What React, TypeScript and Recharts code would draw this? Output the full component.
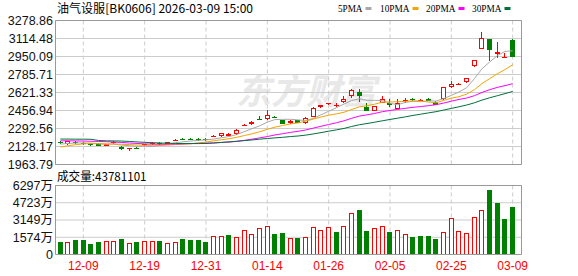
import React from "react";
import {
  ComposedChart,
  BarChart,
  Bar,
  Line,
  XAxis,
  YAxis,
  CartesianGrid,
  ReferenceLine,
} from "recharts";

// trading days shown (MM-DD)
const dates = [
  "12-04", "12-05", "12-08", "12-09", "12-10", "12-11", "12-12", "12-15", "12-16", "12-17",
  "12-18", "12-19", "12-22", "12-23", "12-24", "12-25", "12-26", "12-29", "12-30", "12-31",
  "01-05", "01-06", "01-07", "01-08", "01-09", "01-12", "01-13", "01-14", "01-15", "01-16",
  "01-19", "01-20", "01-21", "01-22", "01-23", "01-26", "01-27", "01-28", "01-29", "01-30",
  "02-02", "02-03", "02-04", "02-05", "02-06", "02-09", "02-10", "02-11", "02-12", "02-13",
  "02-24", "02-25", "02-26", "02-27", "03-02", "03-03", "03-04", "03-05", "03-06", "03-09",
];
const tickDates = ["12-09", "12-19", "12-31", "01-14", "01-26", "02-05", "02-25", "03-09"];

const open = [
  2172, 2150, 2172, 2160, 2150, 2155, 2135, 2160, 2128, 2106,
  2118, 2138, 2150, 2160, 2155, 2182, 2198, 2196, 2195, 2196,
  2220, 2222, 2228, 2240, 2315, 2332, 2381, 2378, 2396, 2368,
  2341, 2368, 2341, 2398, 2486, 2518, 2500, 2536, 2590, 2627,
  2493, 2453, 2530, 2530, 2475, 2550, 2562, 2548, 2558, 2536,
  2560, 2667, 2692, 2713, 2864, 3023, 3108, 2975, 2942, 3102,
];
const close = [
  2163, 2175, 2160, 2152, 2145, 2137, 2150, 2168, 2103, 2114,
  2112, 2148, 2157, 2152, 2165, 2192, 2191, 2190, 2189, 2188,
  2222, 2247, 2246, 2280, 2327, 2356, 2376, 2417, 2392, 2338,
  2362, 2347, 2393, 2484, 2505, 2522, 2504, 2566, 2642, 2585,
  2453, 2499, 2566, 2510, 2524, 2555, 2553, 2551, 2548, 2508,
  2667, 2697, 2703, 2752, 2916, 3123, 3008, 2990, 2948, 2945,
];
const high = [
  2180, 2182, 2178, 2168, 2162, 2158, 2155, 2178, 2133, 2118,
  2128, 2153, 2165, 2167, 2170, 2196, 2205, 2204, 2203, 2202,
  2230, 2252, 2255, 2284, 2331, 2362, 2410, 2460, 2405, 2372,
  2366, 2372, 2398, 2488, 2508, 2530, 2525, 2585, 2650, 2651,
  2524, 2502, 2585, 2560, 2560, 2568, 2575, 2565, 2572, 2540,
  2672, 2722, 2708, 2756, 2920, 3178, 3112, 3080, 2978, 3110,
];
const low = [
  2152, 2145, 2152, 2145, 2136, 2132, 2130, 2155, 2100, 2083,
  2105, 2133, 2145, 2146, 2150, 2178, 2186, 2185, 2182, 2180,
  2212, 2218, 2224, 2236, 2311, 2328, 2374, 2372, 2385, 2334,
  2338, 2343, 2336, 2395, 2483, 2508, 2487, 2522, 2572, 2536,
  2450, 2450, 2527, 2485, 2472, 2530, 2540, 2540, 2545, 2505,
  2555, 2662, 2688, 2710, 2855, 3018, 2910, 2940, 2938, 2941,
];
const prevClose = 2170;

const ma5 = [
  2150, 2156, 2160, 2161, 2159, 2154, 2149, 2150, 2141, 2135,
  2130, 2130, 2127, 2137, 2148, 2163, 2171, 2178, 2184, 2189,
  2196, 2208, 2219, 2237, 2264, 2291, 2317, 2351, 2374, 2376,
  2377, 2371, 2366, 2385, 2418, 2450, 2482, 2516, 2548, 2564,
  2550, 2549, 2549, 2523, 2510, 2531, 2541, 2538, 2545, 2543,
  2565, 2595, 2626, 2665, 2747, 2838, 2900, 2958, 2997, 3002,
];
const ma10 = [
  2124, 2135, 2145, 2152, 2155, 2153, 2152, 2151, 2148, 2146,
  2142, 2139, 2139, 2139, 2141, 2146, 2150, 2153, 2161, 2169,
  2180, 2190, 2199, 2212, 2228, 2244, 2263, 2285, 2305, 2320,
  2334, 2344, 2359, 2379, 2397, 2414, 2426, 2441, 2466, 2491,
  2500, 2515, 2533, 2535, 2537, 2540, 2545, 2543, 2535, 2527,
  2549, 2569, 2583, 2607, 2646, 2703, 2748, 2792, 2831, 2875,
];
const ma20 = [
  2180, 2180, 2179, 2178, 2176, 2174, 2172, 2169, 2165, 2160,
  2156, 2152, 2150, 2149, 2150, 2151, 2153, 2155, 2157, 2158,
  2161, 2165, 2169, 2175, 2184, 2195, 2207, 2219, 2234, 2245,
  2257, 2267, 2279, 2296, 2313, 2329, 2345, 2363, 2386, 2406,
  2417, 2430, 2446, 2457, 2467, 2477, 2486, 2493, 2501, 2510,
  2525, 2542, 2558, 2571, 2592, 2622, 2647, 2668, 2684, 2702,
];
const ma30 = [
  2196, 2196, 2195, 2195, 2194, 2183, 2180, 2179, 2178, 2174,
  2170, 2166, 2163, 2160, 2158, 2156, 2155, 2155, 2155, 2156,
  2160, 2165, 2170, 2176, 2182, 2188, 2195, 2201, 2207, 2212,
  2219, 2224, 2232, 2243, 2255, 2268, 2280, 2293, 2311, 2327,
  2338, 2350, 2363, 2375, 2387, 2399, 2412, 2423, 2435, 2446,
  2461, 2476, 2491, 2507, 2527, 2552, 2573, 2592, 2611, 2631,
];

// volume in 万 (10k shares)
const volume = [
  1100, 1100, 1280, 1280, 915, 1100, 1250, 1190, 1370, 1070,
  1100, 1250, 1190, 1190, 1070, 1160, 1370, 1280, 1280, 1100,
  1710, 1710, 1740, 1555, 2260, 1890, 2440, 2620, 1830, 1920,
  1465, 1465, 1555, 2530, 2260, 2530, 2015, 2620, 3810, 4030,
  2100, 2440, 2620, 2015, 2260, 1890, 1555, 1650, 1650, 1370,
  2075, 3355, 2165, 1980, 3450, 4090, 5860, 4670, 3200, 4378,
];
const lastVolume = 43781101;

const priceTicks = [1963.79, 2128.17, 2292.56, 2456.94, 2621.33, 2785.71, 2950.09, 3114.48, 3278.86];
const volTicks = [0, 1574, 3149, 4723, 6297];

const maNames = ["5PMA", "10PMA", "20PMA", "30PMA"];
const maColors = ["#a8a8a8", "#f5a300", "#ff00ff", "#00703c"];

const RED = "#ff0000";
const GREEN = "#008000";
const GRID = "#cccccc";
const FRAME = "#999999";
const NUM_FONT = "'Liberation Sans', Arial, 'Noto Sans CJK SC', sans-serif";
const CJK_FONT = "'Noto Sans CJK SC', sans-serif";

const rows = dates.map((d, i) => ({
  date: d,
  open: open[i],
  close: close[i],
  high: high[i],
  low: low[i],
  range: [low[i], high[i]],
  ma5: ma5[i],
  ma10: ma10[i],
  ma20: ma20[i],
  ma30: ma30[i],
  vol: volume[i],
  volUp: close[i] >= (i === 0 ? prevClose : close[i - 1]),
}));

function Candle(props: any) {
  const { x, y, width, height, payload } = props;
  if (!payload) return null;
  const { open: o, close: c, high: h, low: l } = payload;
  const k = h === l ? 0 : height / (h - l);
  const cx = Math.round(x + width / 2 - 0.5);
  const yO = y + (h - o) * k;
  const yC = y + (h - c) * k;
  const top = Math.round(Math.min(yO, yC));
  const bot = Math.round(Math.max(yO, yC));
  const up = c >= o;
  const color = up ? RED : GREEN;
  let body;
  if (bot - top <= 1) {
    body = <rect x={cx - 2} y={top} width={5} height={1} fill={color} />;
  } else if (up) {
    body = (
      <rect x={cx - 1.5} y={top + 0.5} width={4} height={bot - top - 1} fill="#fff" stroke={color} strokeWidth={1} />
    );
  } else {
    body = <rect x={cx - 2} y={top} width={5} height={bot - top} fill={color} />;
  }
  return (
    <g>
      <line x1={cx + 0.5} x2={cx + 0.5} y1={Math.round(y)} y2={Math.round(y + height)} stroke={color} strokeWidth={1} />
      {body}
    </g>
  );
}

function VolBar(props: any) {
  const { x, y, width, height, payload } = props;
  if (!payload) return null;
  const cx = Math.round(x + width / 2 - 0.5);
  const top = Math.round(y);
  const bot = Math.round(y + height);
  if (payload.volUp) {
    return (
      <rect x={cx - 1.5} y={top + 0.5} width={4} height={Math.max(0, bot - top - 1)} fill="#fff" stroke={RED} strokeWidth={1} />
    );
  }
  return <rect x={cx - 2} y={top} width={5} height={bot - top} fill={GREEN} />;
}

const yTick = { fontSize: 12.5, fill: "#111", fontFamily: NUM_FONT };

export default function App() {
  const legendX = [338, 380, 426, 472];
  const legendW = [24.5, 29.5, 29.5, 29.5];
  return (
    <div style={{ position: "absolute", left: 0, top: 0, width: 578, height: 276, background: "#fff" }}>
      {/* watermark */}
      <svg width={578} height={276} style={{ position: "absolute", left: 0, top: 0 }}>
        <text
          x={236}
          y={104}
          fontSize={35}
          fontWeight={700}
          fontStyle="italic"
          fontFamily={CJK_FONT}
          fill="#e8e8e8"
          textLength={140}
          lengthAdjust="spacingAndGlyphs"
        >
          东方财富
        </text>
      </svg>

      <div style={{ position: "absolute", left: 0, top: 0 }}>
        <ComposedChart width={578} height={178} data={rows} margin={{ top: 20.5, right: 55.5, bottom: 13.5, left: 0 }}>
          <CartesianGrid vertical={false} stroke={GRID} />
          <CartesianGrid horizontal={false} stroke={GRID} strokeDasharray="4 3" />
          <XAxis dataKey="date" hide ticks={tickDates} interval={0} padding={{ left: 1, right: 5 }} />
          <YAxis
            domain={[1963.79, 3278.86]}
            ticks={priceTicks}
            interval={0}
            allowDataOverflow
            width={55.5}
            tickLine={false}
            tickSize={0}
            tickMargin={2.5}
            axisLine={{ stroke: FRAME }}
            tick={yTick}
            tickFormatter={(v: number) => v.toFixed(2)}
          />
          <YAxis yAxisId="r" orientation="right" width={1} tick={false} tickLine={false} axisLine={{ stroke: FRAME }} />
          <ReferenceLine y={3278.86} stroke={FRAME} />
          <ReferenceLine y={1963.79} stroke={FRAME} />
          <Bar dataKey="range" barSize={5} isAnimationActive={false} shape={(p: any) => <Candle {...p} />} />
          <Line type="linear" dataKey="ma5" stroke={maColors[0]} strokeWidth={1} dot={false} activeDot={false} isAnimationActive={false} />
          <Line type="linear" dataKey="ma10" stroke={maColors[1]} strokeWidth={1} dot={false} activeDot={false} isAnimationActive={false} />
          <Line type="linear" dataKey="ma20" stroke={maColors[2]} strokeWidth={1} dot={false} activeDot={false} isAnimationActive={false} />
          <Line type="linear" dataKey="ma30" stroke={maColors[3]} strokeWidth={1} dot={false} activeDot={false} isAnimationActive={false} />
        </ComposedChart>
      </div>

      <div style={{ position: "absolute", left: 0, top: 170 }}>
        <BarChart width={578} height={106} data={rows} margin={{ top: 15.5, right: 55.5, bottom: 0, left: 0 }}>
          <CartesianGrid vertical={false} stroke={GRID} />
          <CartesianGrid horizontal={false} stroke={GRID} strokeDasharray="4 3" />
          <XAxis
            dataKey="date"
            ticks={tickDates}
            interval={0}
            height={21.5}
            padding={{ left: 1, right: 5 }}
            tickLine={false}
            tickSize={0}
            tickMargin={7}
            axisLine={{ stroke: FRAME }}
            tick={{ fontSize: 12, fill: RED, fontFamily: NUM_FONT }}
          />
          <YAxis
            domain={[0, 6297]}
            ticks={volTicks}
            interval={0}
            allowDataOverflow
            width={55.5}
            tickLine={false}
            tickSize={0}
            tickMargin={2.5}
            axisLine={{ stroke: FRAME }}
            tick={yTick}
            tickFormatter={(v: number) => (v === 0 ? "0" : v + "万")}
          />
          <YAxis yAxisId="r" orientation="right" width={1} tick={false} tickLine={false} axisLine={{ stroke: FRAME }} />
          <ReferenceLine y={6297} stroke={FRAME} />
          <Bar dataKey="vol" barSize={5} isAnimationActive={false} shape={(p: any) => <VolBar {...p} />} />
        </BarChart>
      </div>

      {/* titles and legend */}
      <svg width={578} height={276} style={{ position: "absolute", left: 0, top: 0, pointerEvents: "none" }}>
        <text x={57} y={12.5} fontSize={12} fontFamily={CJK_FONT} fill="#000" textLength={196} lengthAdjust="spacingAndGlyphs">
          油气设服[BK0606] 2026-03-09 15:00
        </text>
        {maNames.map((name, i) => (
          <g key={name}>
            <text
              x={legendX[i]}
              y={12}
              fontSize={11}
              fontFamily="'Liberation Serif', serif"
              fill="#000"
              textLength={legendW[i]}
              lengthAdjust="spacingAndGlyphs"
            >
              {name}
            </text>
            <rect x={legendX[i] + legendW[i] + 3} y={7} width={6} height={3} fill={maColors[i]} />
          </g>
        ))}
        <text x={57} y={181} fontSize={12} fontFamily={CJK_FONT} fill="#000" textLength={89.5} lengthAdjust="spacingAndGlyphs">
          成交量:{lastVolume}
        </text>
      </svg>
    </div>
  );
}
